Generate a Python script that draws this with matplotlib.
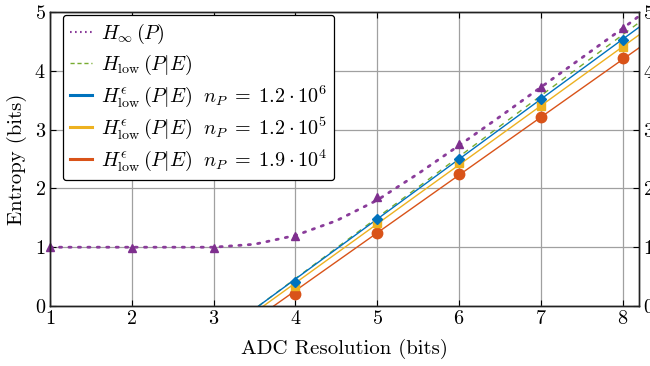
import matplotlib
matplotlib.use("Agg")
import matplotlib.pyplot as plt
from matplotlib.lines import Line2D

plt.rcParams['mathtext.fontset'] = 'cm'
plt.rcParams['font.family'] = 'serif'
plt.rcParams['font.serif'] = ['cmr10', 'DejaVu Serif']
plt.rcParams['axes.unicode_minus'] = False
plt.rcParams['axes.formatter.use_mathtext'] = True

# Theoretical curves
x_hinf = [1.0, 2.0, 3.0, 3.5, 4.0, 4.5, 5.0, 5.5, 6.0, 6.5, 7.0, 7.5, 8.0, 8.2]
y_hinf = [1.0, 1.0, 1.0, 1.05, 1.2, 1.45, 1.8, 2.25, 2.73, 3.22, 3.72, 4.22, 4.72, 4.93]

x_hlow = [3.55, 8.2]
y_hlow = [0.0, 4.82]
x_np6 = [3.55, 8.2]
y_np6 = [0.0, 4.74]
x_np5 = [3.61, 8.2]
y_np5 = [0.0, 4.61]
x_np4 = [3.735, 8.2]
y_np4 = [0.0, 4.39]

# Measured points
res = [1, 2, 3, 4, 5, 6, 7, 8]
m_hinf = [1.0, 0.98, 0.98, 1.19, 1.86, 2.75, 3.72, 4.72]
res_eps = [4, 5, 6, 7, 8]
m_np6 = [0.40, 1.48, 2.50, 3.52, 4.52]
m_np5 = [0.34, 1.42, 2.43, 3.40, 4.41]
m_np4 = [0.20, 1.24, 2.24, 3.21, 4.21]

c_purple = '#7E2F8E'
c_green = '#77AC30'
c_blue = '#0072BD'
c_yellow = '#EDB120'
c_red = '#D95319'

FS = 14.5
LFS = 15

fig = plt.figure(figsize=(6.5, 3.66), dpi=100)
ax = fig.add_axes([50/650, 60/366, 589/650, 294/366])

ax.grid(True, color='#a0a0a0', linewidth=0.9)
ax.set_axisbelow(True)

ax.plot(x_hinf, y_hinf, color='#8a3c9a', linestyle=(0, (0.8, 2.6)), linewidth=2.0, dash_capstyle='round')
ax.plot(x_hlow, y_hlow, color=c_green, linestyle=(0, (4, 4)), linewidth=1.0)
ax.plot(x_np6, y_np6, color=c_blue, linewidth=1.0)
ax.plot(x_np5, y_np5, color=c_yellow, linewidth=1.0)
ax.plot(x_np4, y_np4, color=c_red, linewidth=1.0)

ax.plot(res, m_hinf, linestyle='none', marker='^', color=c_purple, markersize=6, clip_on=False)
ax.plot(res_eps, m_np4, linestyle='none', marker='o', color=c_red, markersize=7.5)
ax.plot(res_eps, m_np5, linestyle='none', marker='s', color=c_yellow, markersize=5.5)
ax.plot(res_eps, m_np6, linestyle='none', marker='D', color=c_blue, markersize=5.5)

ax.set_xlim(1, 8.2)
ax.set_ylim(0, 5)
ax.set_xticks([1, 2, 3, 4, 5, 6, 7, 8])
ax.set_yticks([0, 1, 2, 3, 4, 5])
ax.tick_params(direction='in', labelsize=FS, length=4, top=True, pad=3)
ax.set_xlabel('ADC Resolution (bits)', fontsize=LFS, labelpad=8)
ax.set_ylabel('Entropy (bits)', fontsize=LFS, labelpad=5)

ax2 = ax.twinx()
ax2.set_ylim(0, 5)
ax2.set_yticks([0, 1, 2, 3, 4, 5])
ax2.tick_params(direction='in', labelsize=FS, length=4, pad=3)

for a in (ax, ax2):
    for s in a.spines.values():
        s.set_color('#222222')
        s.set_linewidth(1.0)

handles = [
    Line2D([], [], color='#8a3c9a', linestyle=(0, (0.8, 1.6)), linewidth=1.5),
    Line2D([], [], color=c_green, linestyle=(0, (3, 2)), linewidth=1.0),
    Line2D([], [], color=c_blue, linewidth=2.2),
    Line2D([], [], color=c_yellow, linewidth=2.2),
    Line2D([], [], color=c_red, linewidth=2.2),
]
labels = [
    r'$H_{\infty}\,(P)$',
    r'$H_{\rm low}\,(P|E)$',
    r'$H^{\epsilon}_{\rm low}\,(P|E)\ \ n_P\;=\;1.2\cdot 10^6$',
    r'$H^{\epsilon}_{\rm low}\,(P|E)\ \ n_P\;=\;1.2\cdot 10^5$',
    r'$H^{\epsilon}_{\rm low}\,(P|E)\ \ n_P\;=\;1.9\cdot 10^4$',
]
leg = ax.legend(handles, labels, loc='upper left', bbox_to_anchor=(13/589, 1 - 3/294),
                fontsize=FS, frameon=True, fancybox=True, edgecolor='black',
                handlelength=1.1, handletextpad=0.45, labelspacing=0.32,
                borderpad=0.35, borderaxespad=0.0)
leg.get_frame().set_linewidth(0.9)
leg.get_frame().set_alpha(1.0)
leg.get_frame().set_boxstyle('round,pad=0,rounding_size=0.15')

fig.savefig('out.png', dpi=100)
